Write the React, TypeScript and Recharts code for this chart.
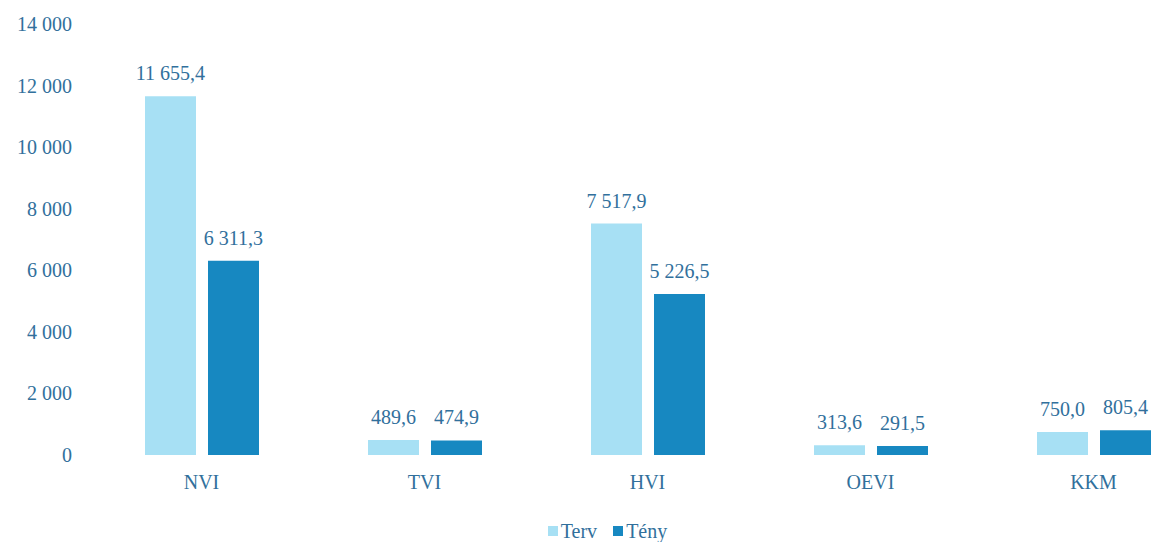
import { BarChart, Bar, XAxis, YAxis, Legend, LabelList } from "recharts";

const categories = ["NVI", "TVI", "HVI", "OEVI", "KKM"];
const tervValues = [11655.4, 489.6, 7517.9, 313.6, 750.0];
const tenyValues = [6311.3, 474.9, 5226.5, 291.5, 805.4];
const yTicks = [0, 2000, 4000, 6000, 8000, 10000, 12000, 14000];

const TEXT_COLOR = "#31709c";
const TERV_COLOR = "#a7e0f4";
const TENY_COLOR = "#1788c1";
const FONT = "Liberation Serif";

const data = categories.map((name, i) => ({
  name,
  terv: tervValues[i],
  teny: tenyValues[i],
}));

// Hungarian style: space as thousands separator, comma as decimal mark
function fmt(v: number, decimals: number) {
  const [int, dec] = v.toFixed(decimals).split(".");
  const grouped = int.replace(/\B(?=(\d{3})+(?!\d))/g, " ");
  return dec ? `${grouped},${dec}` : grouped;
}

function ValueLabel(props: any) {
  const { x, y, width, value } = props;
  return (
    <text
      x={x + width / 2}
      y={y - 16}
      textAnchor="middle"
      fill={TEXT_COLOR}
      fontSize={20}
      fontFamily={FONT}
    >
      {fmt(value, 1)}
    </text>
  );
}

function XTick(props: any) {
  const { x, y, payload } = props;
  return (
    <text x={x} y={y + 26} textAnchor="middle" fill={TEXT_COLOR} fontSize={20} fontFamily={FONT}>
      {payload.value}
    </text>
  );
}

function YTick(props: any) {
  const { x, y, payload } = props;
  return (
    <text x={x} y={y + 7} textAnchor="end" fill={TEXT_COLOR} fontSize={20} fontFamily={FONT}>
      {fmt(payload.value, 0)}
    </text>
  );
}

function LegendContent() {
  const items = [
    { label: "Terv", color: TERV_COLOR },
    { label: "Tény", color: TENY_COLOR },
  ];
  return (
    <div
      style={{
        display: "flex",
        justifyContent: "center",
        alignItems: "center",
        gap: 16,
        height: 30,
        paddingTop: 8,
        paddingLeft: 10,
        boxSizing: "border-box",
        fontFamily: FONT,
        fontSize: 20,
        color: TEXT_COLOR,
      }}
    >
      {items.map((it) => (
        <span key={it.label} style={{ display: "flex", alignItems: "center" }}>
          <span
            style={{
              width: 10,
              height: 10,
              background: it.color,
              display: "inline-block",
              marginRight: 3,
            }}
          />
          {it.label}
        </span>
      ))}
    </div>
  );
}

export default function App() {
  return (
    <div
      style={{
        position: "absolute",
        left: 0,
        top: 0,
        width: 1153,
        height: 542,
        overflow: "hidden",
        background: "#fff",
        fontFamily: FONT,
      }}
    >
      <BarChart
        width={1230}
        height={542}
        data={data}
        margin={{ top: 24, right: 25, bottom: 0, left: 0 }}
        barSize={51}
        barGap={12}
      >
        <XAxis
          dataKey="name"
          axisLine={false}
          tickLine={false}
          height={57}
          tick={<XTick />}
        />
        <YAxis
          domain={[0, 14000]}
          ticks={yTicks}
          width={90}
          axisLine={false}
          tickLine={false}
          tickMargin={12}
          tick={<YTick />}
        />
        <Legend verticalAlign="bottom" height={30} content={<LegendContent />} />
        <Bar dataKey="terv" name="Terv" fill={TERV_COLOR} isAnimationActive={false}>
          <LabelList dataKey="terv" content={<ValueLabel />} />
        </Bar>
        <Bar dataKey="teny" name="Tény" fill={TENY_COLOR} isAnimationActive={false}>
          <LabelList dataKey="teny" content={<ValueLabel />} />
        </Bar>
      </BarChart>
    </div>
  );
}
